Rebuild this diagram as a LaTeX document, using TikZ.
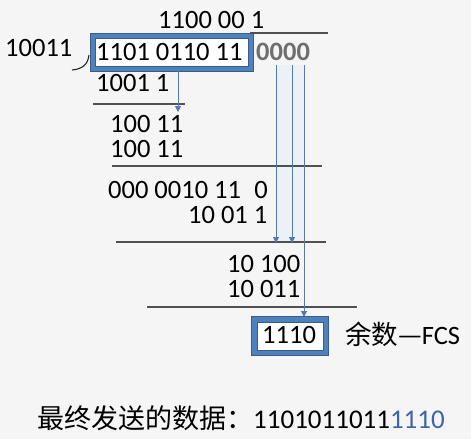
\documentclass[tikz,border=0pt]{standalone}
\usepackage{fontspec}
\setmainfont{Carlito}
\newfontfamily\cjk{Noto Sans CJK SC}
\usetikzlibrary{arrows.meta}
\definecolor{bgc}{RGB}{245,245,245}
\definecolor{frameblue}{RGB}{79,129,189}
\definecolor{framedark}{RGB}{56,93,138}
\definecolor{arrowc}{RGB}{88,122,170}
\definecolor{bandc}{RGB}{236,241,248}
\definecolor{linec}{RGB}{80,80,80}
\definecolor{zerosc}{RGB}{110,110,110}
\definecolor{fcsblue}{RGB}{60,100,170}
\begin{document}
\begin{tikzpicture}[x=1pt,y=-1pt,
  txt/.style={inner sep=0pt,anchor=base west,font=\fontsize{26.5}{30}\selectfont},
  rule/.style={draw=linec,line width=1.1pt},
  arr/.style={draw=arrowc,line width=1pt,-{Triangle[length=6pt,width=6pt]}},
  outerbox/.style={fill=frameblue,draw=framedark,line width=0.6pt},
  innerbox/.style={fill=white,draw=framedark,line width=0.6pt}]
\path[use as bounding box,fill=bgc] (0,0) rectangle (471,439);
% band behind arrows
\fill[bandc] (276,65) rectangle (304,242);
% boxes
\draw[outerbox] (90,33) rectangle (253,71);
\draw[innerbox] (95,38) rectangle (248,66);
\draw[outerbox] (251,316) rectangle (328,355);
\draw[innerbox] (257,322) rectangle (323,350);
% texts
\node[txt] (q) at (158,28) {1100 00 1};
\node[txt] (g) at (5,56) {10011};
\node[txt] (d) at (96,60) {1101 0110 11};
\node[txt,text=zerosc,font=\fontsize{26.5}{30}\selectfont\bfseries] (z) at (256,60) {0000};
\node[txt] (s1) at (96,91) {1001 1};
\node[txt] (r1) at (110,132) {100 11};
\node[txt] (s2) at (110,157) {100 11};
\node[txt] (r2) at (108,198) {000 0010 11\hspace{0.5em}0};
\node[txt] (s3) at (188,223) {10 01 1};
\node[txt] (r3) at (227,272) {10 100};
\node[txt] (s4) at (227,297) {10 011};
\node[txt] (rem) at (262,343) {1110};
\node[txt] (fcs) at (345,344) {{\cjk 余数—}FCS};
\node[txt,font=\fontsize{27}{30}\selectfont] (fin) at (37,428) {{\cjk 最终发送的数据：}1101011011\textcolor{fcsblue}{1110}};
% rules
\draw[rule] (250,33) -- (328,33);
\draw[rule] (93,104) -- (185,104);
\draw[rule] (112,166) -- (322,166);
\draw[rule] (116,242) -- (326,242);
\draw[rule] (147,307) -- (357,307);
% division bracket
\draw[line width=1.1pt,draw=black!85] (72,70) .. controls (83,69) and (88,64) .. (89,55);
% arrows
\coordinate (a1s) at (178,71); \coordinate (a1e) at (178,112);
\coordinate (a2s) at (276,65); \coordinate (a2e) at (276,243);
\coordinate (a3s) at (292,65); \coordinate (a3e) at (292,243);
\coordinate (a4s) at (304,65); \coordinate (a4e) at (304,317);
\draw[arr] (a1s) -- (a1e);
\draw[arr] (a2s) -- (a2e);
\draw[arr] (a3s) -- (a3e);
\draw[arr] (a4s) -- (a4e);
\end{tikzpicture}
\end{document}
